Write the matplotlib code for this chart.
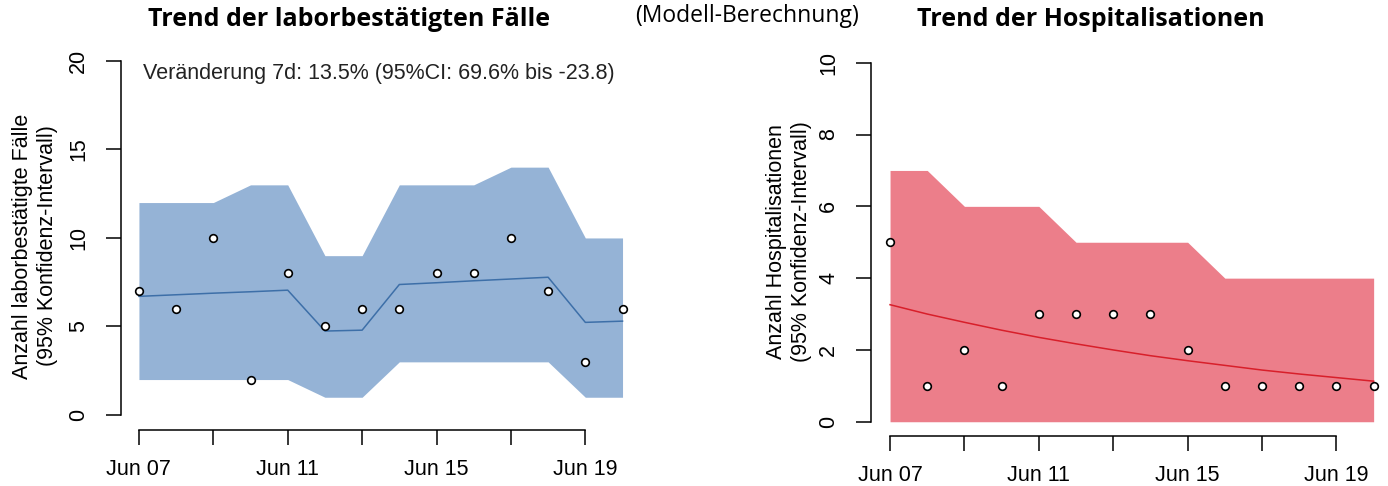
import numpy as np
import matplotlib
matplotlib.use("Agg")
from matplotlib import pyplot as plt

# days Jun 07 .. Jun 20 (index 0..13)
days = list(range(14))
tick_days = [0, 2, 4, 6, 8, 10, 12]
tick_labels = ["Jun 07", "", "Jun 11", "", "Jun 15", "", "Jun 19"]

# laborbestaetigte Faelle
cases_obs = [7, 6, 10, 2, 8, 5, 6, 6, 8, 8, 10, 7, 3, 6]
cases_fit = [6.7, 6.79, 6.88, 6.96, 7.05, 4.74, 4.79, 7.37, 7.47, 7.58, 7.68, 7.78, 5.23, 5.30]
cases_lo = [2, 2, 2, 2, 2, 1, 1, 3, 3, 3, 3, 3, 1, 1]
cases_hi = [12, 12, 12, 13, 13, 9, 9, 13, 13, 13, 14, 14, 10, 10]

# Hospitalisationen
hosp_obs = [5, 1, 2, 1, 3, 3, 3, 3, 2, 1, 1, 1, 1, 1]
hosp_fit = [3.26, 3.00, 2.77, 2.55, 2.35, 2.17, 2.00, 1.84, 1.70, 1.57, 1.44, 1.33, 1.23, 1.13]
hosp_lo = [0] * 14
hosp_hi = [7, 7, 6, 6, 6, 5, 5, 5, 5, 4, 4, 4, 4, 4]

W, H = 1388, 486
fig = plt.figure(figsize=(W / 100, H / 100), dpi=100)
plt.rcParams["font.family"] = ["Liberation Sans", "DejaVu Sans"]
FS = 15.5


def r_axes(ax, ymax, ystep):
    for s in ["top", "right"]:
        ax.spines[s].set_visible(False)
    ax.spines["left"].set_bounds(0, ymax)
    ax.spines["bottom"].set_bounds(tick_days[0], tick_days[-1])
    for s in ["left", "bottom"]:
        ax.spines[s].set_linewidth(1.1)
    ax.set_yticks(np.arange(0, ymax + 0.1, ystep))
    ax.set_xticks(tick_days)
    ax.set_xticklabels(tick_labels)
    ax.tick_params(length=10.8, width=1.1, labelsize=FS)
    ax.tick_params(axis="y", labelrotation=90, pad=12)
    ax.tick_params(axis="x", pad=10)
    for lab in ax.get_yticklabels():
        lab.set_va("center")
    ax.patch.set_alpha(0)


def draw_panel(ax, obs, fit, lo, hi, fill, line):
    ax.fill_between(days, lo, hi, color=fill, linewidth=0)
    ax.plot(days, fit, color=line, linewidth=1.1)
    ax.plot(days, obs, "o", markersize=5.5, markerfacecolor="white",
            markeredgecolor="black", markeredgewidth=1.2, clip_on=False)


ax1 = fig.add_axes([120.7 / W, (H - 430) / H, 14.01 * 37.2 / W, 384.1 / H])
draw_panel(ax1, cases_obs, cases_fit, cases_lo, cases_hi, "#95b3d6", "#3d6fa8")
ax1.set_xlim(-0.49, 13.52)
ax1.set_ylim(-0.85, 20.85)
r_axes(ax1, 20, 5)

ax2 = fig.add_axes([870.7 / W, (H - 436.1) / H, 14.04 * 37.2 / W, 387.7 / H])
draw_panel(ax2, hosp_obs, hosp_fit, hosp_lo, hosp_hi, "#ec7e8a", "#d81f2a")
ax2.set_xlim(-0.52, 13.52)
ax2.set_ylim(-0.4, 10.4)
r_axes(ax2, 10, 2)

fig.text(35 / W, 1 - 246 / H, "Anzahl laborbestätigte Fälle\n(95% Konfidenz-Intervall)",
         rotation=90, ha="center", va="center", fontsize=FS, linespacing=1.25)
fig.text(789 / W, 1 - 242 / H, "Anzahl Hospitalisationen\n(95% Konfidenz-Intervall)",
         rotation=90, ha="center", va="center", fontsize=FS, linespacing=1.25)

fig.text(143 / W, 1 - 73 / H, "Veränderung 7d: 13.5% (95%CI: 69.6% bis -23.8)",
         ha="left", va="center", fontsize=FS, color="#222222")

fig.text(349 / W, 1 - 20 / H, "Trend der laborbestätigten Fälle", family="Open Sans",
         fontweight="bold", fontsize=18, ha="center", va="center")
fig.text(747 / W, 1 - 16 / H, "(Modell-Berechnung)", family="Open Sans",
         fontsize=16.5, ha="center", va="center")
fig.text(1091 / W, 1 - 20 / H, "Trend der Hospitalisationen", family="Open Sans",
         fontweight="bold", fontsize=18, ha="center", va="center")

fig.savefig("out.png", dpi=100)
